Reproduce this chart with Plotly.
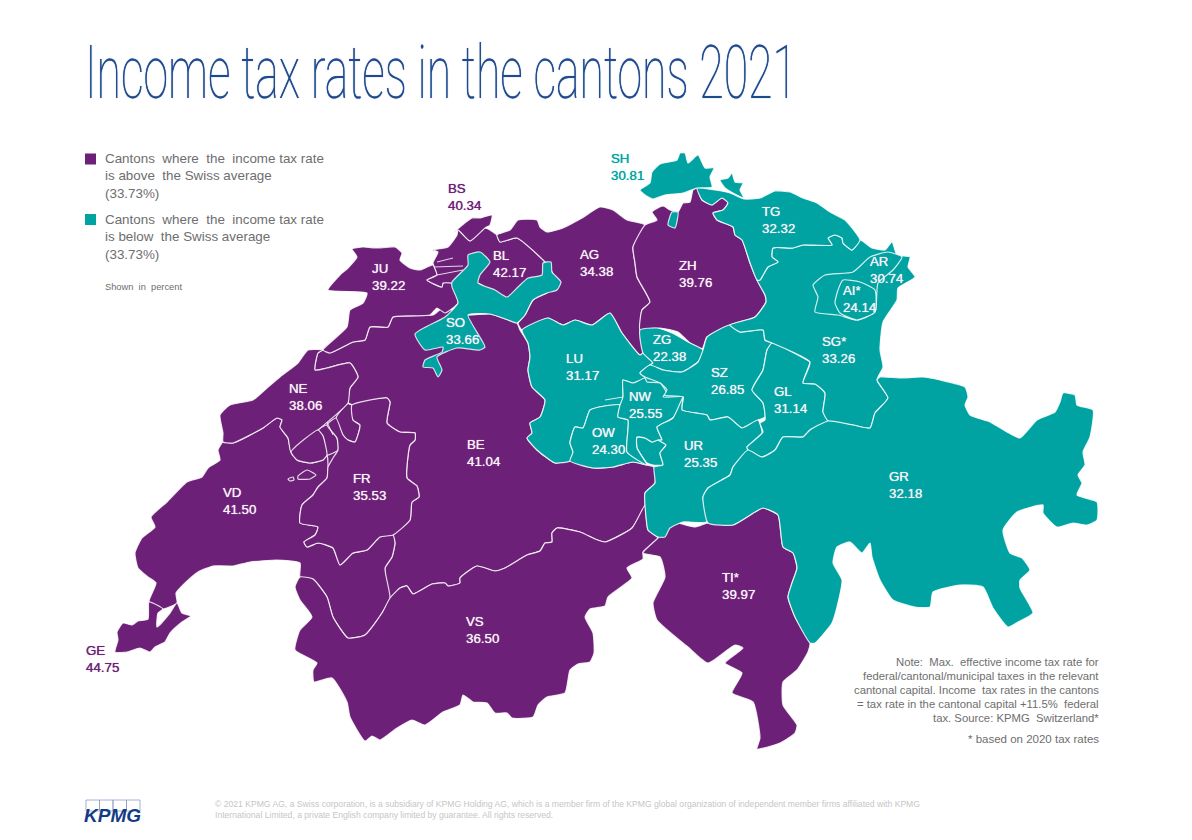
import plotly.graph_objects as go

# ---------- data ----------
CANTONS = ["ZH","BE","LU","UR","SZ","OW","NW","GL","ZG","FR","SO","BS","BL","SH","AR","AI","SG","GR","AG","TG","TI","VD","VS","NE","GE","JU"]
RATES = [39.76,41.04,31.17,25.35,26.85,24.30,25.55,31.14,22.38,35.53,33.66,40.34,42.17,30.81,30.74,24.14,33.26,32.18,34.38,32.32,39.97,41.50,36.50,38.06,44.75,39.22]
STARRED = ["AI","SG","TI"]
SWISS_AVERAGE = 33.73
TITLE = "Income tax rates in the cantons 2021"
LEGEND_ABOVE = "Cantons&nbsp; where&nbsp; the&nbsp; income tax rate<br>is above&nbsp; the Swiss average<br>(33.73%)"
LEGEND_BELOW = "Cantons&nbsp; where&nbsp; the&nbsp; income tax rate<br>is below&nbsp; the Swiss average<br>(33.73%)"
UNIT_NOTE = "Shown&nbsp; in&nbsp; percent"
NOTE_LINES = ["Note:&nbsp; Max.&nbsp; effective income tax rate for",
              "federal/cantonal/municipal taxes in the relevant",
              "cantonal capital. Income&nbsp; tax rates in the cantons",
              "= tax rate in the cantonal capital +11.5%&nbsp; federal",
              "tax. Source: KPMG&nbsp; Switzerland*"]
FOOTNOTE = "* based on 2020 tax rates"
COPYRIGHT = ("© 2021 KPMG AG, a Swiss corporation, is a subsidiary of KPMG Holding AG, which is a member firm of the KPMG global organization of independent member firms affiliated with KPMG<br>"
             "International Limited, a private English company limited by guarantee. All rights reserved.")

# Canton boundaries (map units), one list per part
BOUNDARY = {
"BE": [[(323,350),(330,353),(353,342),(365,340),(370,327),(388,327),(393,317),(433,315),(443,308),(468,315),(490,314),(508,320),(517,323),(520,330),(528,343),(530,357),(528,370),(532,387),(545,400),(540,417),(530,423),(532,433),(527,438),(537,450),(555,463),(570,461),(593,468),(613,467),(633,462),(647,465),(654,467),(655,483),(645,493),(645,505),(632,528),(605,542),(595,539),(580,532),(557,528),(552,533),(552,542),(545,543),(540,551),(527,555),(505,568),(495,571),(477,566),(460,578),(460,583),(448,586),(445,583),(432,584),(413,594),(407,586),(400,588),(390,598),(385,568),(392,557),(395,543),(393,535),(410,520),(412,502),(419,497),(417,486),(407,478),(410,445),(415,440),(415,433),(400,432),(387,423),(390,402),(387,398),(352,405),(348,403),(350,388),(358,377),(350,363),(327,368),(315,370),(318,353)],
       [(348,403),(352,405),(353,420),(360,425),(355,442),(348,440),(343,435),(336,418)]],
"VS": [[(300,577),(295,587),(300,600),(312,617),(300,630),(295,650),(317,663),(313,670),(314,682),(332,678),(347,702),(350,717),(365,741),(372,736),(380,740),(397,728),(412,720),(425,725),(443,712),(460,705),(463,695),(473,702),(487,703),(495,713),(507,713),(512,718),(533,717),(538,705),(547,697),(565,693),(570,670),(578,664),(590,662),(594,653),(593,633),(585,617),(590,609),(605,606),(608,597),(632,578),(627,568),(643,559),(643,552),(658,538),(648,530),(646,515),(645,505),(632,528),(605,542),(595,539),(580,532),(557,528),(552,533),(552,542),(545,543),(540,551),(527,555),(505,568),(495,571),(477,566),(460,578),(460,583),(448,586),(445,583),(432,584),(413,594),(407,586),(400,588),(390,598),(382,613),(365,635),(348,638),(333,617),(327,597),(313,579)]],
"VD": [[(149,602),(156,583),(148,577),(138,568),(135,553),(142,538),(155,527),(151,517),(167,502),(187,482),(202,477),(208,468),(220,460),(218,450),(223,442),(233,443),(263,428),(277,418),(282,420),(280,427),(288,438),(291,452),(297,460),(310,463),(323,460),(327,455),(328,467),(327,478),(318,487),(313,495),(302,505),(300,523),(318,527),(315,535),(304,542),(307,547),(318,543),(333,548),(340,565),(353,553),(367,550),(380,537),(393,535),(395,543),(392,557),(385,568),(390,598),(382,613),(365,635),(348,638),(333,617),(327,597),(313,579),(300,577),(300,563),(277,560),(250,562),(233,566),(213,566),(198,572),(185,583),(176,593),(177,603),(163,609)],
       [(318,430),(327,425),(337,438),(338,450),(327,455),(323,436)]],
"GE": [[(149,602),(148,619),(138,621),(132,625),(123,623),(117,632),(118,640),(115,652),(127,652),(140,648),(150,652),(155,647),(165,642),(170,633),(182,622),(191,616),(182,613),(177,603),(170,613),(157,627),(158,613),(163,609)]],
"NE": [[(323,350),(308,350),(298,363),(280,377),(267,388),(253,400),(230,405),(220,415),(223,433),(223,442),(233,443),(263,428),(277,418),(282,420),(280,427),(288,438),(291,452),(318,430),(348,403),(350,388),(358,377),(350,363),(327,368),(315,370),(318,353)]],
"FR": [[(352,405),(387,398),(390,402),(387,423),(400,432),(415,433),(415,440),(410,445),(407,478),(417,486),(419,497),(412,502),(410,520),(393,535),(380,537),(367,550),(353,553),(340,565),(333,548),(318,543),(307,547),(304,542),(315,535),(318,527),(300,523),(302,505),(313,495),(318,487),(327,478),(328,467),(333,458),(338,450),(337,438),(327,425),(336,418),(343,435),(348,440),(355,442),(360,425),(353,420)],
       [(291,452),(297,460),(310,463),(323,460),(327,455),(323,436),(318,430)],
       [(307,470),(316,475),(310,479),(298,479),(298,476)],
       [(288,479),(293,477),(294,480),(290,481)]],
"JU": [[(328,290),(340,275),(348,268),(357,257),(352,249),(363,247),(377,248),(395,247),(402,253),(400,260),(410,268),(420,270),(433,265),(437,275),(427,280),(442,287),(443,283),(452,283),(458,303),(445,313),(437,308),(430,315),(393,317),(388,327),(370,327),(365,340),(353,342),(330,353),(323,350),(347,327),(350,310),(363,303),(367,293)]],
"BL": [[(433,263),(438,252),(433,250),(448,247),(457,235),(458,230),(470,241),(485,228),(497,235),(500,242),(517,238),(545,262),(552,272),(530,290),(507,300),(478,283),(462,283),(452,283),(443,283),(442,287),(427,280),(437,275)]],
"BS": [[(453,233),(472,218),(480,218),(492,215),(490,225),(485,228),(470,241),(458,230)]],
"AG": [[(497,235),(510,230),(518,220),(537,220),(540,227),(547,232),(563,228),(582,218),(600,207),(613,210),(627,220),(645,225),(633,247),(635,263),(637,277),(650,302),(642,310),(640,330),(643,353),(640,355),(622,333),(610,313),(592,325),(575,320),(563,325),(548,318),(522,330),(518,323),(525,315),(533,300),(547,293),(557,285),(552,272),(545,262),(517,238),(500,242)]],
"ZH": [[(645,225),(657,220),(652,212),(663,206),(670,210),(678,212),(683,203),(690,202),(693,190),(697,188),(702,200),(712,205),(722,198),(728,203),(723,210),(713,213),(717,220),(733,227),(735,235),(742,240),(750,263),(757,280),(765,295),(766,302),(755,317),(730,325),(707,337),(702,349),(690,343),(678,332),(660,328),(640,330),(642,310),(650,302),(637,277),(635,263),(633,247)]],
"TI": [[(658,538),(670,525),(677,523),(695,527),(708,523),(733,525),(755,512),(763,508),(778,515),(783,547),(793,553),(797,568),(792,583),(788,597),(795,617),(810,643),(808,652),(797,670),(783,682),(783,705),(797,725),(795,733),(780,743),(757,749),(760,738),(753,702),(732,693),(742,673),(725,663),(743,648),(735,645),(708,663),(688,647),(657,620),(653,603),(665,577),(660,557),(643,553)]],
"SO": [[(468,255),(480,252),(490,262),(480,275),(478,283),(495,290),(507,297),(518,287),(528,278),(542,275),(543,263),(551,262),(552,272),(561,282),(557,290),(547,293),(533,300),(525,315),(517,323),(508,320),(490,314),(468,315),(485,347),(480,350),(457,348),(437,357),(442,370),(438,377),(433,368),(423,367),(425,360),(442,352),(443,347),(425,350),(415,334),(445,317),(458,303),(452,287),(452,282),(468,265)]],
"SH": [[(640,190),(650,183),(652,172),(660,164),(677,160),(680,153),(685,153),(688,163),(698,155),(705,168),(714,168),(710,177),(712,187),(697,188),(683,193),(665,195),(653,199),(645,195)],
       [(720,180),(728,178),(732,173),(735,182),(743,183),(740,190),(744,198),(733,193),(725,188)],
       [(672,212),(678,212),(675,228),(668,225)]],
"LU": [[(522,330),(548,318),(563,325),(575,320),(592,325),(610,313),(622,333),(640,355),(643,353),(653,363),(650,365),(640,373),(645,378),(633,383),(623,380),(623,397),(620,405),(605,406),(590,410),(583,428),(575,427),(570,443),(573,452),(570,461),(555,463),(537,450),(527,438),(532,433),(530,423),(540,417),(545,400),(532,387),(528,370),(530,357),(528,343)]],
"ZG": [[(640,330),(657,328),(672,333),(690,343),(703,350),(698,362),(682,372),(663,370),(650,365),(653,363),(643,353)]],
"SZ": [[(703,350),(698,362),(682,372),(663,370),(650,365),(640,373),(645,377),(660,383),(667,390),(663,395),(683,397),(682,410),(707,415),(710,420),(728,417),(742,428),(758,420),(765,417),(763,403),(752,390),(763,370),(767,350),(772,343),(765,340),(763,330),(740,332),(730,325),(707,337)]],
"NW": [[(623,380),(633,383),(645,378),(647,382),(660,383),(666,392),(663,397),(683,397),(673,418),(657,427),(662,440),(658,440),(652,442),(645,438),(637,437),(637,448),(647,465),(627,452),(628,420),(618,417),(620,405),(623,397)]],
"OW": [[(570,461),(573,452),(570,443),(575,427),(583,428),(590,410),(605,406),(620,405),(618,417),(628,420),(627,452),(647,465),(633,462),(613,467),(593,468)],
       [(637,437),(645,438),(652,442),(658,440),(666,445),(660,453),(663,465),(653,465),(647,463),(637,448)]],
"UR": [[(657,427),(673,418),(683,397),(682,410),(707,415),(710,420),(728,417),(742,428),(758,420),(762,433),(747,447),(748,450),(733,467),(730,475),(708,488),(703,497),(707,522),(683,522),(670,528),(665,537),(658,537),(648,530),(646,517),(645,493),(655,483),(654,467),(663,465),(660,453),(666,445),(658,440),(662,440)]],
"GL": [[(772,343),(807,360),(810,362),(803,383),(815,384),(825,393),(823,412),(828,421),(810,430),(803,437),(783,437),(775,450),(762,457),(748,450),(747,447),(763,432),(760,423),(765,420),(763,403),(752,390),(763,370),(767,350)]],
"SG": [[(860,240),(872,248),(885,250),(892,242),(897,255),(910,257),(908,267),(915,277),(898,288),(897,300),(883,322),(880,350),(883,367),(877,380),(888,398),(875,413),(870,428),(853,425),(828,421),(823,412),(825,393),(815,384),(803,383),(810,362),(772,343),(765,340),(763,330),(740,332),(730,325),(755,317),(766,302),(765,295),(757,280),(760,280),(768,267),(778,262),(772,257),(773,248),(793,248),(803,245),(832,245),(828,238),(835,235),(842,238),(843,243),(852,250)]],
"TG": [[(697,188),(715,190),(730,193),(744,199),(760,198),(775,191),(790,192),(803,198),(817,203),(830,212),(845,220),(860,240),(852,250),(843,243),(842,238),(835,235),(828,238),(832,245),(803,245),(793,248),(773,248),(772,257),(778,262),(768,267),(760,280),(757,280),(750,263),(742,240),(735,235),(733,227),(717,220),(713,213),(723,210),(728,203),(722,198),(712,205),(702,200)]],
"AR": [[(813,285),(825,275),(853,272),(870,257),(888,252),(902,257),(893,270),(878,283),(875,312),(857,320),(838,315),(815,312),(818,297)]],
"AI": [[(843,280),(860,282),(875,290),(875,312),(857,320),(840,313),(835,303),(838,290)]],
"GR": [[(748,450),(762,457),(775,450),(783,437),(803,437),(810,430),(828,421),(853,425),(870,428),(875,413),(888,398),(877,380),(880,377),(900,378),(923,377),(940,380),(965,387),(968,397),(965,405),(970,415),(990,422),(1007,432),(1020,438),(1037,420),(1055,412),(1060,402),(1063,393),(1075,395),(1077,405),(1093,410),(1090,437),(1083,452),(1085,465),(1078,475),(1082,483),(1077,495),(1097,502),(1097,520),(1087,525),(1073,523),(1057,527),(1043,513),(1043,505),(1017,512),(1003,530),(1010,553),(1022,558),(1030,570),(1020,580),(1020,588),(1033,613),(1018,622),(1008,627),(993,608),(983,587),(960,585),(933,592),(930,607),(915,607),(893,600),(880,580),(872,557),(870,543),(862,553),(850,542),(837,547),(833,563),(842,580),(837,607),(832,623),(815,643),(810,643),(795,617),(788,597),(792,583),(797,568),(793,553),(783,547),(778,515),(763,508),(755,512),(733,525),(708,523),(703,497),(708,488),(730,475),(733,467)]],
}
PAINT_ORDER = ["BE","VD","VS","GE","NE","FR","JU","BL","BS","AG","ZH","TI","LU","ZG","SZ","OW","NW","UR","GL","SG","TG","AR","AI","GR","SH","SO"]
MINOR_BORDERS = [[(437,262),(453,258)],[(434,267),(463,266)],[(437,275),(463,270)],[(327,422),(333,435)],[(605,400),(623,397)]]
# Small interior areas underneath the cantons, so rounded borders leave no slivers
UNDERLAY = {"BL": [(436,262),(460,258),(462,286),(428,283)],
            "LU": [(600,398),(640,360),(700,368),(690,405),(640,430),(610,420)],
            "BE": [(295,440),(325,412),(358,408),(358,470),(300,470)]}

LABEL_AT = {"SH":(610,158),"BS":(447,188),"JU":(371,268),"BL":(492,255),"AG":(579,254),"ZH":(678,265),"TG":(761,211),"AR":(869,261),"AI":(842,290),"SG":(821,341),"ZG":(652,339),"SO":(445,322),"LU":(565,358),"SZ":(710,372),"NW":(628,396),"GL":(773,391),"OW":(591,432),"UR":(683,445),"BE":(466,444),"NE":(288,388),"FR":(352,478),"VD":(222,492),"GE":(85,650),"VS":(465,621),"TI":(721,577),"GR":(888,476)}
OUTSIDE = ["SH","BS","GE"]

PURPLE = "#6D2077"
TEAL = "#00A3A1"
GREY = "#6e6e6e"
BLUE = "#1f4b8e"
EDGE = "rgba(255,255,255,0.82)"
SANS = "Liberation Sans, Arial, sans-serif"

rate = dict(zip(CANTONS, RATES))
fill_of = lambda code: PURPLE if rate[code] > SWISS_AVERAGE else TEAL
fig = go.Figure()
for code, part in UNDERLAY.items():
    fig.add_trace(go.Scatter(x=[p[0] for p in part] + [part[0][0]], y=[p[1] for p in part] + [part[0][1]],
                             mode="lines", fill="toself", fillcolor=fill_of(code), line=dict(width=0),
                             hoverinfo="skip", showlegend=False))
for code in PAINT_ORDER:
    xs, ys = [], []
    for part in BOUNDARY[code]:
        xs += [p[0] for p in part] + [part[0][0], None]
        ys += [p[1] for p in part] + [part[0][1], None]
    fig.add_trace(go.Scatter(x=xs, y=ys, mode="lines", fill="toself", fillcolor=fill_of(code),
                             line=dict(color=EDGE, width=1.2, shape="spline", smoothing=0.5), name=code,
                             hovertext=f"{code}: {rate[code]:.2f}", hoverinfo="text", showlegend=False))
for seg in MINOR_BORDERS:
    fig.add_trace(go.Scatter(x=[p[0] for p in seg], y=[p[1] for p in seg], mode="lines",
                             line=dict(color=EDGE, width=1), hoverinfo="skip", showlegend=False))
# legend swatches
fig.add_trace(go.Scatter(x=[90.5], y=[159], mode="markers", marker=dict(symbol="square", size=11, color=PURPLE), hoverinfo="skip", showlegend=False))
fig.add_trace(go.Scatter(x=[90.5], y=[219.5], mode="markers", marker=dict(symbol="square", size=11, color=TEAL), hoverinfo="skip", showlegend=False))

def note(text, x, y, size, color, xanchor="left", yanchor="top", align="left", family=SANS, **kw):
    fig.add_annotation(x=x, y=y, xref="x", yref="y", text=text, showarrow=False, xanchor=xanchor, yanchor=yanchor,
                       align=align, font=dict(size=size, color=color, family=family, **kw), borderpad=0)

for code in CANTONS:
    star = "*" if code in STARRED else ""
    x, y = LABEL_AT[code]
    col = "#f7f2f8"
    if code in OUTSIDE:
        col = fill_of(code)
    note(f"{code}{star}<br>{rate[code]:.2f}", x - 0.5, y - 8, 13.3, col, shadow=f"0 0 0.7px {col}")

note(TITLE, 84, 72, 75, BLUE, yanchor="middle", family="Roboto, sans-serif", weight=100, shadow=f"0 0 0.9px {BLUE}")
note(LEGEND_ABOVE, 104, 150, 13.4, GREY)
note(LEGEND_BELOW, 104, 211, 13.4, GREY)
note(UNIT_NOTE, 104, 281, 9.3, GREY)
for i, line in enumerate(NOTE_LINES):
    note(line, 1100, 662 + 14 * i, 11.3, GREY, xanchor="right", yanchor="middle", align="right")
note(FOOTNOTE, 1100, 739, 11.5, GREY, xanchor="right", yanchor="middle", align="right")
note(COPYRIGHT, 214, 798, 8.6, "#c6c6c6")
note("KPMG", 83, 815, 19, "#123a85", yanchor="middle", style="italic", weight=700)
for x0 in (86, 99.5, 113, 126.5):
    fig.add_shape(type="rect", x0=x0, x1=x0 + 13.5, y0=800, y1=811, line=dict(color="#8fa0c4", width=0.8), fillcolor="rgba(0,0,0,0)")

fig.update_xaxes(range=[0, 1192], visible=False, fixedrange=True)
fig.update_yaxes(range=[840, 0], visible=False, fixedrange=True)
fig.update_layout(width=1192, height=840, margin=dict(l=0, r=0, t=0, b=0), paper_bgcolor="white", plot_bgcolor="white", showlegend=False)

TITLE_WIDTH = 712
squeeze_title = """
document.body.style.margin='0';document.documentElement.style.overflow='hidden';
document.querySelectorAll('.annotation-text').forEach(function(t){
  if(t.textContent.indexOf('Income tax')===0){
    var b=t.getBBox(), s=%d/b.width;
    t.setAttribute('transform','translate('+b.x+',0) scale('+s+',1) translate('+(-b.x)+',0)');
  }
});
""" % TITLE_WIDTH
fig.write_html("out.html", config=dict(displayModeBar=False), post_script=squeeze_title)
